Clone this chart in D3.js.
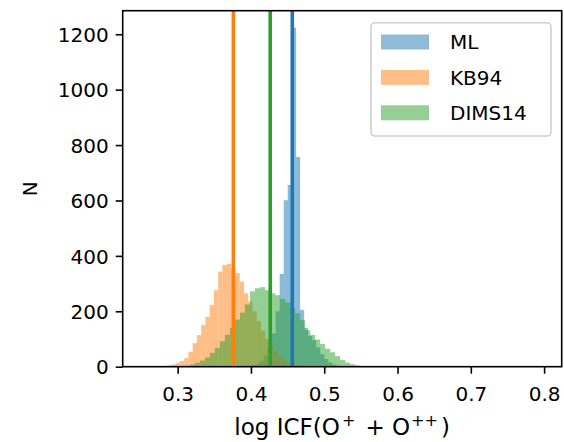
<!DOCTYPE html>
<html>
<head>
<meta charset="utf-8">
<script src="https://cdn.jsdelivr.net/npm/d3@7"></script>
<style>
  html, body { margin: 0; padding: 0; background: #fff; }
  svg text { font-family: "DejaVu Sans", sans-serif; fill: #000; }
</style>
</head>
<body>
<div id="chart"></div>
<script>
  // ---- data ----
  const seriesNames = ['ML', 'KB94', 'DIMS14'];
  const seriesColors = ['#1f77b4', '#ff7f0e', '#2ca02c'];

  // ML histogram: first bin edge, bin width, counts
  const mlStart = 0.3952;
  const mlWidth = 0.0055;
  const mlCounts = [2, 5, 10, 20, 40, 70, 120, 200, 335, 601, 656, 1224, 757, 205, 140, 110, 96, 70, 45, 28, 15, 8, 4, 2];

  // KB94 histogram
  const kbStart = 0.2683;
  const kbWidth = 0.0058;
  const kbCounts = [1, 2, 3, 5, 8, 14, 20, 31, 54, 85, 114, 150, 180, 222, 276, 343, 367, 371, 356, 338, 307, 265, 235, 200, 165, 130, 100, 75, 55, 38, 25, 15, 9, 5, 2];

  // DIMS14 histogram
  const dimsStart = 0.3099;
  const dimsWidth = 0.00682;
  const dimsCounts = [4, 8, 14, 22, 33, 50, 68, 92, 115, 140, 170, 195, 225, 272, 283, 287, 276, 265, 258, 245, 232, 212, 193, 168, 132, 115, 98, 82, 65, 52, 38, 24, 15, 9, 5, 2];

  // vertical reference lines
  const lineValues = [0.4564, 0.376, 0.4263];

  const xTicks = [0.3, 0.4, 0.5, 0.6, 0.7, 0.8];
  const yTicks = [0, 200, 400, 600, 800, 1000, 1200];
  const xLimits = [0.225, 0.824];
  const yLimits = [0, 1285];

  // ---- layout ----
  const W = 564, H = 442;
  const margin = { left: 122.7, right: W - 561.7, top: 10.7, bottom: H - 366.7 };
  const fontSize = 20;

  const svg = d3.select('#chart').append('svg')
    .attr('width', W).attr('height', H);

  const x = d3.scaleLinear().domain(xLimits).range([margin.left, W - margin.right]);
  const y = d3.scaleLinear().domain(yLimits).range([H - margin.bottom, margin.top]);

  function toBins(start, width, counts) {
    return counts.map((c, i) => ({ x0: start + i * width, x1: start + (i + 1) * width, n: c }));
  }

  const hists = [
    toBins(mlStart, mlWidth, mlCounts),
    toBins(kbStart, kbWidth, kbCounts),
    toBins(dimsStart, dimsWidth, dimsCounts)
  ];

  const plot = svg.append('g');

  // histograms, each as a translucent group so adjacent bars do not seam
  hists.forEach((bins, i) => {
    plot.append('g')
      .attr('opacity', 0.5)
      .selectAll('rect')
      .data(bins)
      .join('rect')
      .attr('x', d => x(d.x0))
      .attr('width', d => x(d.x1) - x(d.x0) + 0.3)
      .attr('y', d => y(d.n))
      .attr('height', d => y(0) - y(d.n))
      .attr('fill', seriesColors[i]);
  });

  // vertical lines
  lineValues.forEach((v, i) => {
    plot.append('line')
      .attr('x1', x(v)).attr('x2', x(v))
      .attr('y1', y.range()[0]).attr('y2', y.range()[1])
      .attr('stroke', seriesColors[i])
      .attr('stroke-width', 3.6);
  });

  // axes
  const xAxis = svg.append('g')
    .attr('transform', `translate(0,${y(0)})`)
    .call(d3.axisBottom(x).tickValues(xTicks).tickFormat(d3.format('.1f')).tickSizeOuter(0).tickSize(7).tickPadding(7));
  const yAxis = svg.append('g')
    .attr('transform', `translate(${margin.left},0)`)
    .call(d3.axisLeft(y).tickValues(yTicks).tickFormat(d3.format('d')).tickSizeOuter(0).tickSize(7).tickPadding(7));

  [xAxis, yAxis].forEach(a => {
    a.select('.domain').remove();
    a.selectAll('.tick line').attr('stroke', '#000').attr('stroke-width', 1.6);
    a.selectAll('.tick text').attr('font-size', fontSize).attr('font-family', 'DejaVu Sans');
  });
  xAxis.selectAll('.tick text').attr('dy', '1.01em');
  yAxis.selectAll('.tick text').attr('dy', '0.36em');

  // frame
  svg.append('rect')
    .attr('x', x.range()[0]).attr('y', y.range()[1])
    .attr('width', x.range()[1] - x.range()[0])
    .attr('height', y.range()[0] - y.range()[1])
    .attr('fill', 'none').attr('stroke', '#000').attr('stroke-width', 1.6);

  // axis labels
  const labelSize = 23;
  const xl = svg.append('text')
    .attr('x', (x.range()[0] + x.range()[1]) / 2)
    .attr('y', 435)
    .attr('text-anchor', 'middle')
    .attr('font-size', labelSize);
  xl.append('tspan').text('log ICF(O');
  xl.append('tspan').attr('font-size', labelSize * 0.7).attr('dx', 2).attr('dy', -9).text('+');
  xl.append('tspan').attr('dy', 9).attr('dx', 10).text('+ O');
  xl.append('tspan').attr('font-size', labelSize * 0.7).attr('dx', 1).attr('dy', -9).text('++');
  xl.append('tspan').attr('dy', 9).attr('dx', 3).text(')');

  svg.append('text')
    .attr('transform', `translate(37,${(y.range()[0] + y.range()[1]) / 2}) rotate(-90)`)
    .attr('text-anchor', 'middle')
    .attr('font-size', fontSize)
    .text('N');

  // legend
  const legend = svg.append('g');
  legend.append('rect')
    .attr('x', 371).attr('y', 22.7).attr('width', 180).attr('height', 113.3)
    .attr('rx', 4)
    .attr('fill', '#fff').attr('fill-opacity', 0.8)
    .attr('stroke', '#d0d0d0').attr('stroke-width', 1.6);

  seriesNames.forEach((name, i) => {
    const cy = 42 + i * 35.4;
    legend.append('rect')
      .attr('x', 381).attr('y', cy - 7.5).attr('width', 48).attr('height', 15)
      .attr('fill', seriesColors[i]).attr('fill-opacity', 0.5);
    legend.append('text')
      .attr('x', 450).attr('y', cy + 7.3)
      .attr('font-size', fontSize)
      .text(name);
  });
</script>
</body>
</html>
